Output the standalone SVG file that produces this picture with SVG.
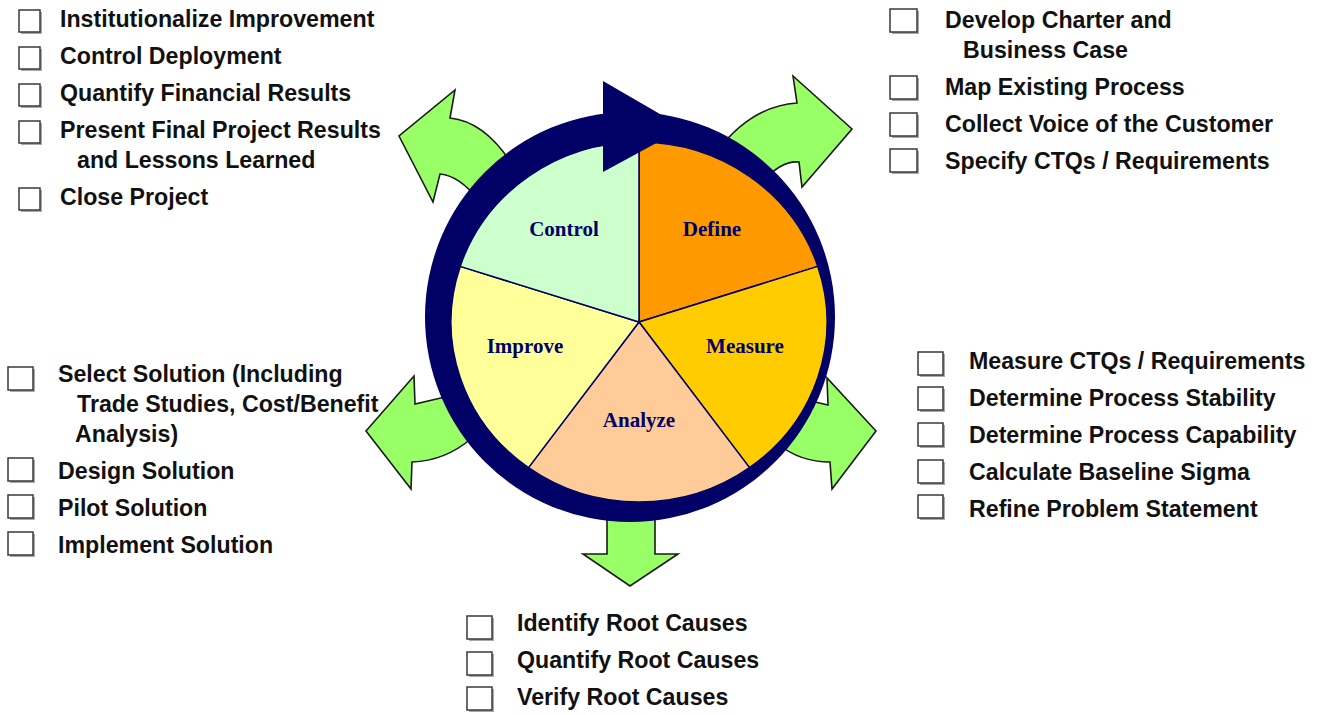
<svg xmlns="http://www.w3.org/2000/svg" width="1319" height="715" viewBox="0 0 1319 715">
  <style>
    .item { font-family: "Liberation Sans", Arial, sans-serif; font-weight: bold; font-size: 23.2px; fill: #111111; }
    .phase { font-family: "Liberation Serif", "Times New Roman", serif; font-weight: bold; font-size: 21px; fill: #000066; text-anchor: middle; }
    .box { fill: #ffffff; stroke: #3a3a3a; stroke-width: 1.5; }
    .shadow { fill: #a8a8a8; }
    .go { fill: #99ff66; stroke: #1a1a1a; stroke-width: 1.6; stroke-linejoin: miter; }
    .slice { stroke: #000066; stroke-width: 1.5; stroke-linejoin: round; }
  </style>
  <defs>
    <g id="cb21"><rect class="shadow" x="2" y="2" width="21" height="22"/><rect class="box" x="0" y="0" width="21" height="22"/></g>
    <g id="cb27"><rect class="shadow" x="2" y="2" width="27" height="23"/><rect class="box" x="0" y="0" width="27" height="23"/></g>
    <g id="cb25"><rect class="shadow" x="2" y="2" width="25" height="23"/><rect class="box" x="0" y="0" width="25" height="23"/></g>
  </defs>

  <rect width="1319" height="715" fill="#ffffff"/>

  <!-- green arrows pointing from the cycle out to each checklist -->
  <g id="connectors">
    <path class="go" d="M 520,178 Q 490,122 450,118 L 455,90 L 399,136 L 433,202 L 440,174 Q 460,176 478,200 Z"/>
    <path class="go" d="M 718,150 Q 752,106 797,103 L 793,76 L 852,129 L 802,187 L 799,162 Q 782,160 762,182 Z"/>
    <path class="go" d="M 798,398 L 828,405 L 827,378 L 876,431 L 832,489 L 830,462 Q 800,462 778,444 Z"/>
    <path class="go" d="M 458,394 L 415,404 L 414,376 L 366,431 L 411,489 L 412,462 Q 445,461 472,438 Z"/>
    <path class="go" d="M 607,500 L 607,554 L 583,554 L 630,586 L 678,554 L 655,554 L 655,500 Z"/>
  </g>

  <!-- DMAIC cycle -->
  <g id="cycle">
    <circle cx="630" cy="317" r="205" fill="#000066"/>
    <g id="define"><path class="slice" fill="#ff9900" d="M 639,322 L 639,142 A 188 180 0 0 1 817.8,266.4 Z"/></g>
    <g id="measure"><path class="slice" fill="#ffcc00" d="M 639,322 L 817.8,266.4 A 188 180 0 0 1 749.5,467.6 Z"/></g>
    <g id="analyze"><path class="slice" fill="#ffcc99" d="M 639,322 L 749.5,467.6 A 188 180 0 0 1 528.5,467.6 Z"/></g>
    <g id="improve"><path class="slice" fill="#ffff99" d="M 639,322 L 528.5,467.6 A 188 180 0 0 1 460.2,266.4 Z"/></g>
    <g id="control"><path class="slice" fill="#ccffcc" d="M 639,322 L 460.2,266.4 A 188 180 0 0 1 639,142 Z"/></g>
    <polygon points="603,81 603,172 684,128" fill="#000066"/>
    <text class="phase" x="712" y="236">Define</text>
    <text class="phase" x="745" y="353">Measure</text>
    <text class="phase" x="639" y="427">Analyze</text>
    <text class="phase" x="525" y="353">Improve</text>
    <text class="phase" x="564" y="236">Control</text>
  </g>

  <!-- Control checklist -->
  <g id="control-list">
    <use href="#cb21" x="19" y="10"/><text class="item" x="60" y="27">Institutionalize Improvement</text>
    <use href="#cb21" x="19" y="47"/><text class="item" x="60" y="64">Control Deployment</text>
    <use href="#cb21" x="19" y="84"/><text class="item" x="60" y="101">Quantify Financial Results</text>
    <use href="#cb21" x="19" y="121"/><text class="item" x="60" y="138">Present Final Project Results</text>
    <text class="item" x="77" y="168">and Lessons Learned</text>
    <use href="#cb21" x="19" y="188"/><text class="item" x="60" y="205">Close Project</text>
  </g>

  <!-- Define checklist -->
  <g id="define-list">
    <use href="#cb27" x="890" y="9"/><text class="item" x="945" y="28">Develop Charter and</text>
    <text class="item" x="963" y="58">Business Case</text>
    <use href="#cb27" x="890" y="76"/><text class="item" x="945" y="95">Map Existing Process</text>
    <use href="#cb27" x="890" y="113"/><text class="item" x="945" y="132">Collect Voice of the Customer</text>
    <use href="#cb27" x="890" y="149"/><text class="item" x="945" y="169">Specify CTQs / Requirements</text>
  </g>

  <!-- Measure checklist -->
  <g id="measure-list">
    <use href="#cb25" x="918" y="352"/><text class="item" x="969" y="369">Measure CTQs / Requirements</text>
    <use href="#cb25" x="918" y="387"/><text class="item" x="969" y="406">Determine Process Stability</text>
    <use href="#cb25" x="918" y="423"/><text class="item" x="969" y="443">Determine Process Capability</text>
    <use href="#cb25" x="918" y="460"/><text class="item" x="969" y="480">Calculate Baseline Sigma</text>
    <use href="#cb25" x="918" y="495"/><text class="item" x="969" y="517">Refine Problem Statement</text>
  </g>

  <!-- Improve checklist -->
  <g id="improve-list">
    <use href="#cb25" x="8" y="367"/><text class="item" x="58" y="382">Select Solution (Including</text>
    <text class="item" x="77" y="412">Trade Studies, Cost/Benefit</text>
    <text class="item" x="75" y="442">Analysis)</text>
    <use href="#cb25" x="8" y="458"/><text class="item" x="58" y="479">Design Solution</text>
    <use href="#cb25" x="8" y="495"/><text class="item" x="58" y="516">Pilot Solution</text>
    <use href="#cb25" x="8" y="532"/><text class="item" x="58" y="553">Implement Solution</text>
  </g>

  <!-- Analyze checklist -->
  <g id="analyze-list">
    <use href="#cb25" x="467" y="616"/><text class="item" x="517" y="631">Identify Root Causes</text>
    <use href="#cb25" x="467" y="652"/><text class="item" x="517" y="668">Quantify Root Causes</text>
    <use href="#cb25" x="467" y="687"/><text class="item" x="517" y="705">Verify Root Causes</text>
  </g>
</svg>
